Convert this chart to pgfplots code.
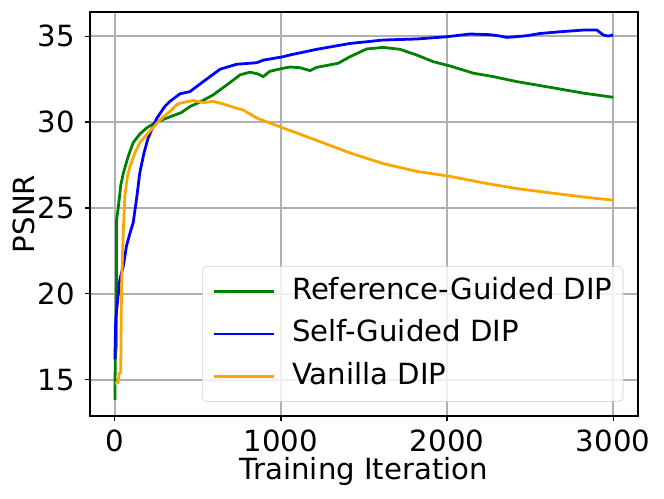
\documentclass[border=0pt]{standalone}
\usepackage{pgfplots}
\pgfplotsset{compat=1.18}
\usepackage{fontspec}
\setmainfont{DejaVu Sans}
\definecolor{mgreen}{RGB}{0,128,0}
\definecolor{mblue}{RGB}{0,0,255}
\definecolor{morange}{RGB}{255,165,0}
\definecolor{mgrid}{HTML}{B0B0B0}
\newcommand{\fs}{\fontsize{21}{25}\selectfont}
\begin{document}
\begin{tikzpicture}
\path[use as bounding box] (-64.8pt,-59.04pt) rectangle (413.28pt,299.52pt);
\begin{axis}[
  at={(0pt,0pt)}, anchor=south west,
  scale only axis, width=394.56pt, height=290.88pt,
  xmin=-150, xmax=3150, ymin=12.9, ymax=36.4,
  xtick={0,1000,2000,3000}, ytick={15,20,25,30,35},
  /pgf/number format/assume math mode=true,
  scaled x ticks=false,
  xticklabel={\pgfmathprintnumber[fixed,precision=0,1000 sep={}]{\tick}},
  tick label style={font=\fs},
  xticklabel style={inner sep=0pt, anchor=north, yshift=-6pt},
  yticklabel style={inner sep=0pt, anchor=east, xshift=-7.2pt},
  tick align=outside, major tick length=3.5pt,
  tick style={black, line width=0.8pt},
  xtick pos=bottom, ytick pos=left,
  grid=major, grid style={mgrid, line width=0.9pt},
  axis line style={black, line width=0.8pt},
  xlabel={Training Iteration}, ylabel={PSNR},
  label style={font=\fs},
  xlabel style={at={(axis description cs:0.5,0)}, anchor=north, inner sep=0pt, yshift=-29.3pt},
  ylabel style={at={(axis description cs:0,0.5)}, anchor=south, inner sep=0pt, yshift=39.6pt},
  legend cell align=left,
  legend style={font=\fs, at={(1,0)}, anchor=south east, xshift=-10.6pt, yshift=10.3pt,
    draw=black!20, rounded corners=3pt, fill=white, fill opacity=0.8, text opacity=1,
    inner xsep=7.5pt, inner ysep=8pt, row sep=10.5pt, column sep=12pt,
    nodes={inner sep=0pt, text height=15.5pt, text depth=4.5pt}},
  legend image code/.code={\draw[#1, line width=2pt] (0pt,0pt) -- (43pt,0pt);},
  every axis plot/.append style={line width=2pt, line join=round},
]
\addplot[mgreen] coordinates {
(0,13.84) (2,16.2) (8,17.0) (10,24.3) (20,25.0) (35,26.3) (50,27.0) (80,28.0)
(110,28.8) (150,29.3) (190,29.65) (250,30.0) (331,30.3) (400,30.55) (452,30.9)
(520,31.2) (592,31.58) (680,32.2) (753,32.74) (813,32.9) (860,32.8) (893,32.64)
(933,32.95) (1000,33.1) (1054,33.2) (1114,33.16) (1175,32.99) (1215,33.18)
(1280,33.3) (1345,33.42) (1416,33.8) (1516,34.25) (1616,34.34) (1716,34.23)
(1817,33.9) (1917,33.51) (2018,33.26) (2159,32.84) (2279,32.64) (2420,32.35)
(2620,32.02) (2821,31.68) (3000,31.44)
};
\addlegendentry{Reference-Guided DIP}
\addplot[mblue] coordinates {
(0,16.2) (5,18.5) (15,19.5) (30,20.85) (50,21.6) (70,22.8) (90,23.5) (110,24.15)
(130,25.5) (150,27.05) (175,28.2) (200,29.07) (251,30.2) (300,30.9) (331,31.2)
(392,31.64) (452,31.77) (532,32.35) (633,33.07) (733,33.36) (854,33.45) (894,33.6)
(1014,33.8) (1054,33.9) (1215,34.23) (1416,34.57) (1616,34.77) (1817,34.83)
(1998,34.96) (2139,35.12) (2259,35.08) (2320,35.0) (2360,34.92) (2480,35.02)
(2560,35.15) (2681,35.25) (2821,35.35) (2902,35.35) (2942,35.06) (2970,35.0) (3000,35.06)
};
\addlegendentry{Self-Guided DIP}
\addplot[morange] coordinates {
(0,14.8) (20,14.85) (25,15.4) (35,15.4) (40,20.5) (50,23.5) (60,25.7) (75,26.8)
(90,27.4) (120,28.2) (150,28.8) (200,29.35) (250,29.9) (291,30.3) (331,30.61)
(371,31.0) (392,31.1) (472,31.25) (532,31.13) (592,31.2) (652,31.05) (733,30.8)
(773,30.7) (854,30.23) (1000,29.7) (1215,28.93) (1416,28.2) (1616,27.58)
(1817,27.13) (2018,26.84) (2219,26.46) (2420,26.13) (2620,25.88) (2821,25.64) (3000,25.45)
};
\addlegendentry{Vanilla DIP}
\end{axis}
\end{tikzpicture}
\end{document}
